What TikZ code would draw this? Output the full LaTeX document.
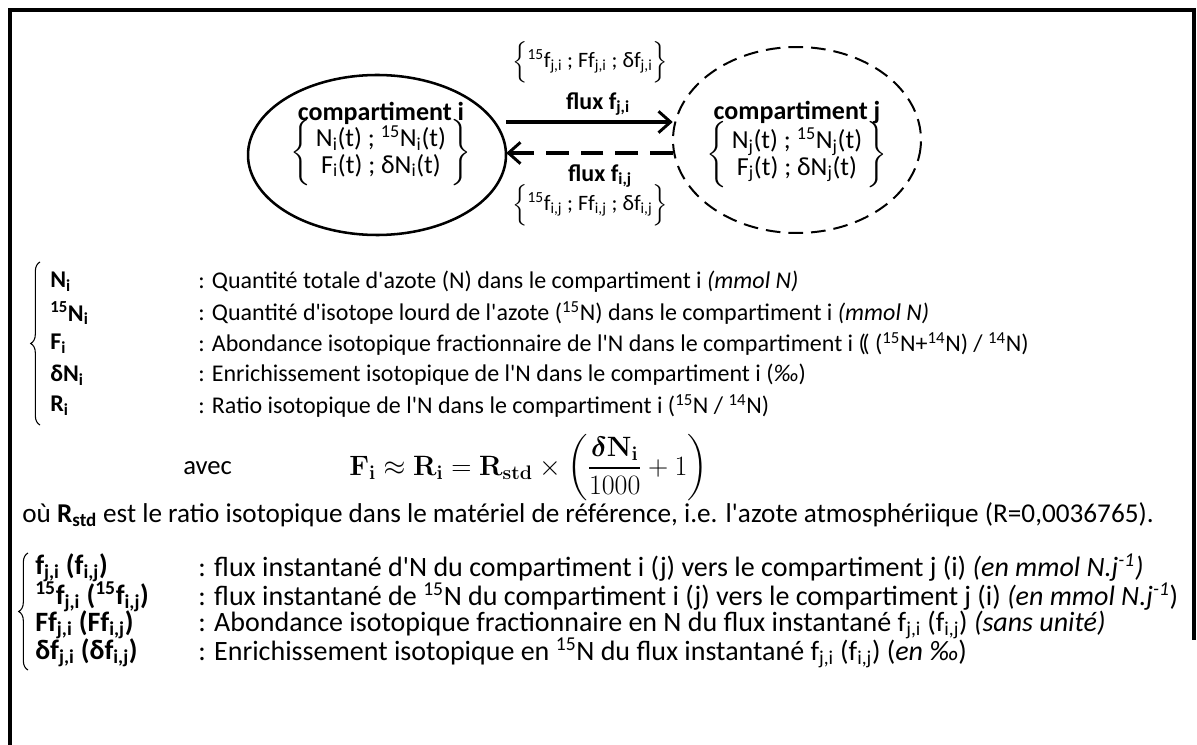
\documentclass[tikz,border=0pt]{standalone}
\usepackage{fix-cm}
\usepackage{amsmath,bm}
\usepackage[no-math]{fontspec}
\setmainfont{Carlito}[Ligatures=TeXOff]
\usetikzlibrary{arrows.meta,positioning,shapes.geometric,decorations.pathreplacing}
\newcommand{\indb}[1]{\textsubscript{#1}}
\newcommand{\expo}[1]{\textsuperscript{#1}}
\newcommand{\setbrace}[1]{$\left\{\rule[-.55em]{0pt}{1.7em}\text{#1}\right\}$}

\begin{document}
\begin{tikzpicture}[x=0.75pt,y=-0.75pt,font=\fontsize{18}{21}\selectfont,inner sep=0pt,
  comp/.style={ellipse},
  ctitle/.style={font=\fontsize{19.5}{19}\selectfont\bfseries},
  cvars/.style={font=\fontsize{19.5}{19}\selectfont,align=center},
  flow/.style={line width=2.4pt,-{Straight Barb[length=9pt,width=16pt,line width=2.2pt]}},
  backflow/.style={flow,line width=3pt,dash pattern=on 17pt off 9pt},
  legbrace/.style={decorate,decoration={brace,amplitude=7pt},line width=.8pt},
  big/.style={font=\fontsize{21}{25}\selectfont}]
\useasboundingbox (0,0) rectangle (1197,745);
% frame
\draw[line width=3pt] (10,745)--(10,10)--(1194,10)--(1194,640);
% compartments
\node[comp,minimum width=193.5pt,minimum height=120pt] (ci) at (377,155) {};
\node[comp,minimum width=186pt,minimum height=139pt] (cj) at (797,140) {};
\draw[line width=1.9pt] plot[domain=0:360,samples=90,smooth cycle] ({377+129*cos(\x)},{155+80*sin(\x)});
\draw[line width=1.5pt,dash pattern=on 11pt off 6pt] plot[domain=0:360,samples=90,smooth cycle] ({797+124*cos(\x)},{140+93*sin(\x)});
\node[ctitle] (ti) at (381,113) {compartiment i};
\node[cvars] (vi) at (381,153)
  {$\left\{\begin{tabular}{@{\,}c@{\,}}N\indb{i}(t) ; \expo{15}N\indb{i}(t)\\ F\indb{i}(t) ; δN\indb{i}(t)\end{tabular}\right\}$};
\node[ctitle] (tj) at (797,113) {compartiment j};
\node[cvars] (vj) at (797,155)
  {$\left\{\begin{tabular}{@{\,}c@{\,}}N\indb{j}(t) ; \expo{15}N\indb{j}(t)\\ F\indb{j}(t) ; δN\indb{j}(t)\end{tabular}\right\}$};
% fluxes
\coordinate (upper) at (590,122);
\coordinate (lower) at (590,153);
\draw[flow] (ci.east |- upper) -- (cj.west |- upper);
\draw[backflow] (cj.west |- lower) -- (ci.east |- lower);
\node[font=\fontsize{18}{20}\selectfont\bfseries] (lji) at (598,104) {flux f\indb{j,i}};
\node[font=\fontsize{18}{20}\selectfont\bfseries] (lij) at (600,176) {flux f\indb{i,j}};
\node[font=\fontsize{16.5}{20}\selectfont] (sji) at (590,62) {\setbrace{\expo{15}f\indb{j,i} ; Ff\indb{j,i} ; δf\indb{j,i}}};
\node[font=\fontsize{16.5}{20}\selectfont] (sij) at (590,205) {\setbrace{\expo{15}f\indb{i,j} ; Ff\indb{i,j} ; δf\indb{i,j}}};
% state variables
\draw[legbrace] (40,425)--(40,262);
\node[anchor=west] (ln1) at (50,282) {\textbf{N\indb{i}}};
\node[anchor=west] (dn1) at (198,282) {: Quantité totale d'azote (N) dans le compartiment i \textit{(mmol N)}};
\node[anchor=west] (ln2) at (50,313) {\textbf{\expo{15}N\indb{i}}};
\node[anchor=west] (dn2) at (198,313) {: Quantité d'isotope lourd de l'azote (\expo{15}N) dans le compartiment i \textit{(mmol N)}};
\node[anchor=west] (ln3) at (50,344) {\textbf{F\indb{i}}};
\node[anchor=west] (dn3) at (198,344) {: Abondance isotopique fractionnaire de l'N dans le compartiment i (\kern-.15em( (\expo{15}N+\expo{14}N) / \expo{14}N)};
\node[anchor=west] (ln4) at (50,375) {\textbf{δN\indb{i}}};
\node[anchor=west] (dn4) at (198,375) {: Enrichissement isotopique de l'N dans le compartiment i (\textit{‰})};
\node[anchor=west] (ln5) at (50,406) {\textbf{R\indb{i}}};
\node[anchor=west] (dn5) at (198,406) {: Ratio isotopique de l'N dans le compartiment i (\expo{15}N / \expo{14}N)};
\node[anchor=west,font=\fontsize{20}{23}\selectfont] (avec) at (183,468) {avec};
\node[anchor=west,big] (eq) at (349,468)
  {$\displaystyle\mathbf{F_i}\approx\mathbf{R_i}=\mathbf{R_{std}}\times\left(\frac{\bm{\delta}\mathbf{N_i}}{1000}+1\right)$};
\node[anchor=west,font=\fontsize{20.4}{23}\selectfont] (ou) at (22,515) {où \textbf{R\indb{std}} est le ratio isotopique dans le matériel de référence, i.e. l'azote atmosphériique (R=0,0036765).};
% fluxes legend
\draw[legbrace] (28,670)--(28,553);
\node[anchor=west,big] (lf1) at (35,568) {\textbf{f\indb{j,i} (f\indb{i,j})}};
\node[anchor=west,big] (df1) at (198,568) {: flux instantané d'N du compartiment i (j) vers le compartiment j (i) \textit{(en mmol N.j\expo{-1})}};
\node[anchor=west,big] (lf2) at (35,597) {\textbf{\expo{15}f\indb{j,i} (\expo{15}f\indb{i,j})}};
\node[anchor=west,big] (df2) at (198,597) {: flux instantané de \expo{15}N du compartiment i (j) vers le compartiment j (i) \textit{(en mmol N.j\expo{-1}})};
\node[anchor=west,big] (lf3) at (35,625) {\textbf{Ff\indb{j,i} (Ff\indb{i,j})}};
\node[anchor=west,big] (df3) at (198,625) {: Abondance isotopique fractionnaire en N du flux instantané f\indb{j,i} (f\indb{i,j}) \textit{(sans unité)}};
\node[anchor=west,big] (lf4) at (35,653) {\textbf{δf\indb{j,i} (δf\indb{i,j})}};
\node[anchor=west,big] (df4) at (198,653) {: Enrichissement isotopique en \expo{15}N du flux instantané f\indb{j,i} (f\indb{i,j}) (\textit{en ‰})};
\end{tikzpicture}
\end{document}
